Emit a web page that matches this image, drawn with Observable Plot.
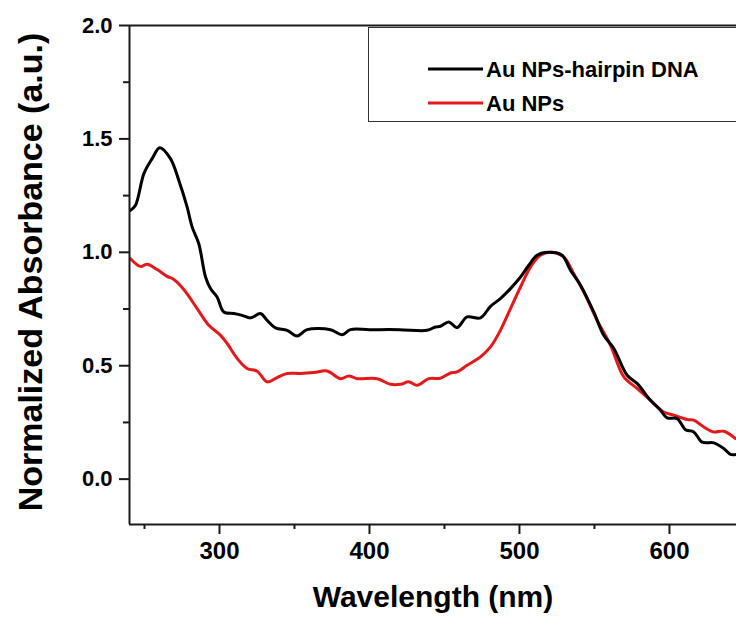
<!DOCTYPE html>
<html>
<head>
<meta charset="utf-8">
<script src="https://cdn.jsdelivr.net/npm/d3@7"></script>
<script src="https://cdn.jsdelivr.net/npm/@observablehq/plot@0.6"></script>
<style>
  html, body { margin: 0; padding: 0; background: #fff; overflow: hidden; }
  #wrap { position: relative; width: 736px; height: 619px; overflow: hidden; }
  #wrap svg { position: absolute; left: 0; top: 0; }
</style>
</head>
<body>
<div id="wrap"></div>
<script>
// ---- Data ----
const hairpinNm = [240.7,244,249.6,255.1,260.2,267.3,272.9,278.4,281.8,286.2,290.7,294,298.4,302.9,309.6,315.1,320.7,327.3,331.8,337.3,345.1,351.8,358.4,374,381.8,387.3,400,420,438.4,444,447.3,452.9,458.4,465.1,474,480.7,487.3,494,500.7,506.2,511.8,519.5,528.4,534,540.7,549.5,556.2,562.9,571.8,578.4,587.3,594,598.4,605.1,610.7,616.2,621.8,629.6,636.2,640.7,644.7];
const hairpinAbs = [1.185,1.207,1.347,1.413,1.461,1.413,1.317,1.2,1.111,1.038,0.891,0.840,0.803,0.737,0.730,0.722,0.711,0.730,0.700,0.667,0.656,0.631,0.659,0.659,0.637,0.659,0.659,0.659,0.656,0.671,0.674,0.693,0.668,0.715,0.711,0.762,0.796,0.840,0.891,0.943,0.987,1.0,0.987,0.921,0.855,0.737,0.634,0.576,0.458,0.422,0.348,0.304,0.270,0.267,0.218,0.208,0.163,0.160,0.135,0.109,0.109];

const auNm = [240.7,247.3,251.8,258.4,265.1,269.6,276.2,285.1,292.9,300.7,305.1,311.8,318.4,325.1,331.8,338.4,345.1,354,362.9,371.8,380.7,386.2,391.8,405.1,414,420.7,426.2,431.8,439.5,447.3,454,458.4,465.1,474,480.7,487.3,494,500.7,507.3,514,521.8,529.6,536.2,542.9,551.8,560.7,569.6,578.4,587.3,596.2,602.9,611.8,616.2,622.9,629.6,636.2,644];
const auAbs = [0.972,0.938,0.947,0.924,0.894,0.880,0.836,0.752,0.678,0.634,0.598,0.532,0.488,0.476,0.429,0.448,0.466,0.466,0.470,0.477,0.443,0.455,0.443,0.443,0.418,0.418,0.429,0.414,0.443,0.445,0.468,0.473,0.502,0.539,0.583,0.656,0.752,0.847,0.935,0.987,1.0,0.979,0.906,0.825,0.700,0.590,0.451,0.400,0.348,0.296,0.282,0.263,0.260,0.230,0.208,0.211,0.179];

const seriesNames = ["Au NPs-hairpin DNA", "Au NPs"];
const seriesColors = ["#000000", "#e3191c"];

const xMajor = [300, 400, 500, 600];
const xMinor = [250, 350, 450, 550];
const yMajor = [0, 0.5, 1.0, 1.5, 2.0];
const yMinor = [0.25, 0.75, 1.25, 1.75];

const xTitle = "Wavelength (nm)";
const yTitle = "Normalized Absorbance (a.u.)";

// ---- Build tables ----
const hairpin = hairpinNm.map((nm, i) => ({nm, v: hairpinAbs[i]}));
const au = auNm.map((nm, i) => ({nm, v: auAbs[i]}));

const font = "'Liberation Sans', Arial, Helvetica, sans-serif";

const chart = Plot.plot({
  width: 736,
  height: 619,
  marginLeft: 129,
  marginRight: 0,
  marginTop: 25,
  marginBottom: 95,
  x: {domain: [240, 644.7]},
  y: {domain: [-0.2, 2.0]},
  style: {fontFamily: font, fontWeight: "bold", color: "#000", background: "white", overflow: "visible"},
  marks: [
    Plot.line(au, {x: "nm", y: "v", stroke: seriesColors[1], strokeWidth: 3, curve: "catmull-rom"}),
    Plot.line(hairpin, {x: "nm", y: "v", stroke: seriesColors[0], strokeWidth: 3, curve: "catmull-rom"}),
    Plot.ruleX([240], {stroke: "#1a1a1a", strokeWidth: 2}),
    Plot.ruleY([-0.2, 2.0], {stroke: "#1a1a1a", strokeWidth: 2}),
    Plot.axisX(xMajor, {tickSize: 10, tickPadding: 7, strokeWidth: 2, stroke: "#1a1a1a", fontSize: 24, fontWeight: "bold", fill: "#000", label: null, tickFormat: d => String(d)}),
    Plot.axisX(xMinor, {tickSize: 5, strokeWidth: 2, stroke: "#1a1a1a", label: null, tickFormat: () => ""}),
    Plot.axisY(yMajor, {tickSize: 10, tickPadding: 7, strokeWidth: 2, stroke: "#1a1a1a", fontSize: 22, fontWeight: "bold", fill: "#000", label: null, tickFormat: d => d.toFixed(1)}),
    Plot.axisY(yMinor, {tickSize: 6, strokeWidth: 2, stroke: "#1a1a1a", label: null, tickFormat: () => ""}),
    Plot.text([xTitle], {frameAnchor: "bottom", dy: 82, lineAnchor: "bottom", textAnchor: "middle", fontSize: 30, fontWeight: "bold", fill: "#000"}),
    Plot.text([yTitle], {frameAnchor: "left", rotate: -90, dx: -88, dy: -3, lineAnchor: "bottom", textAnchor: "middle", fontSize: 34, fontWeight: "bold", fill: "#000"})
  ]
});

document.getElementById("wrap").appendChild(chart);

// ---- Legend overlay ----
const leg = d3.select("#wrap").append("svg")
  .attr("width", 736).attr("height", 619)
  .style("pointer-events", "none")
  .style("font-family", font);

leg.append("rect")
  .attr("x", 368.5).attr("y", 27.5).attr("width", 420).attr("height", 94)
  .attr("fill", "white").attr("stroke", "#333").attr("stroke-width", 1);

const rowsY = [69, 103];
seriesNames.forEach((name, i) => {
  leg.append("line")
    .attr("x1", 428).attr("x2", 483).attr("y1", rowsY[i]).attr("y2", rowsY[i])
    .attr("stroke", seriesColors[i]).attr("stroke-width", 3);
  leg.append("text")
    .attr("x", 486).attr("y", rowsY[i] + 7.8)
    .attr("font-size", 22).attr("font-weight", "bold").attr("fill", "#000")
    .text(name);
});
</script>
</body>
</html>
